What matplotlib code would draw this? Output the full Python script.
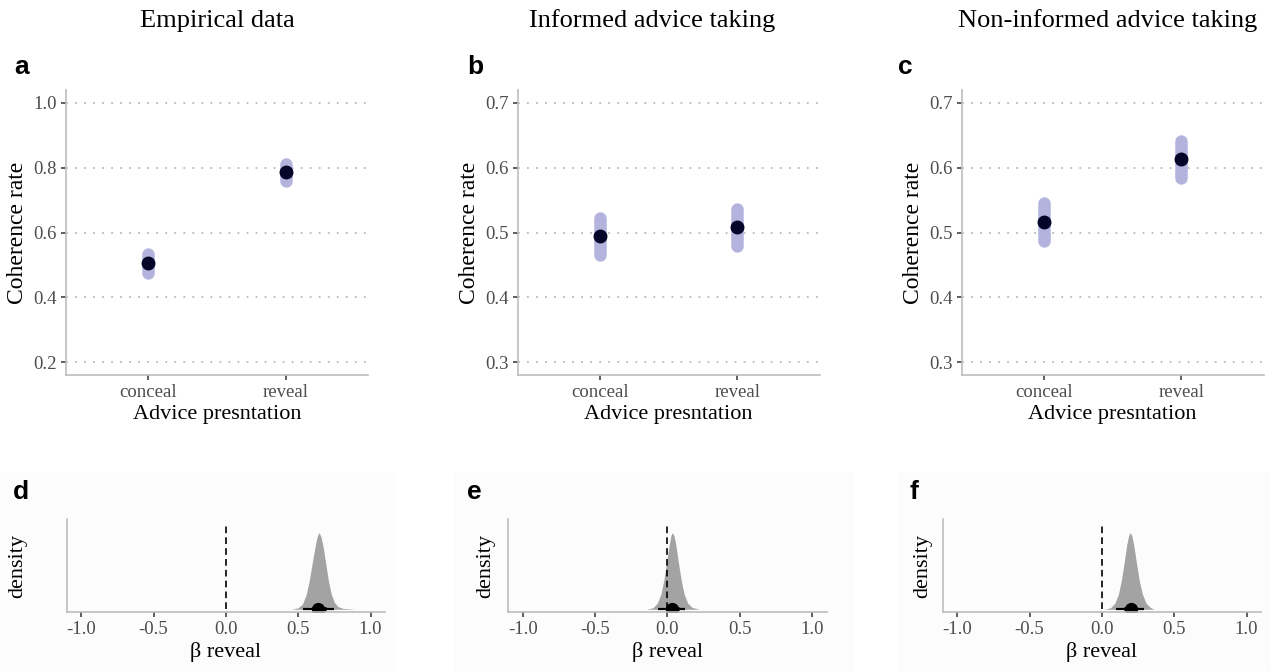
import matplotlib
matplotlib.use("Agg")
import matplotlib.pyplot as plt
from matplotlib.patches import Rectangle

plt.rcParams['font.family'] = ['Liberation Serif', 'DejaVu Serif']

# top row: posterior predicted coherence rate per condition
conditions = ["conceal", "reveal"]
col_titles = ["Empirical data", "Informed advice taking", "Non-informed advice taking"]

emp_mid = [0.505, 0.786]
emp_lo = [0.474, 0.760]
emp_hi = [0.533, 0.810]

inf_mid = [0.494, 0.508]
inf_lo = [0.465, 0.479]
inf_hi = [0.523, 0.537]

non_mid = [0.516, 0.613]
non_lo = [0.487, 0.584]
non_hi = [0.545, 0.641]

top_yticks = [[0.2, 0.4, 0.6, 0.8, 1.0],
              [0.3, 0.4, 0.5, 0.6, 0.7],
              [0.3, 0.4, 0.5, 0.6, 0.7]]

# bottom row: posterior of beta reveal (shape)
d_x = [0.455, 0.50, 0.53, 0.555, 0.575, 0.595, 0.615, 0.630, 0.643, 0.657,
       0.672, 0.690, 0.708, 0.728, 0.750, 0.775, 0.81, 0.89]
d_h = [0.00, 0.02, 0.07, 0.19, 0.36, 0.58, 0.80, 0.94, 1.00, 0.95,
       0.82, 0.60, 0.38, 0.20, 0.09, 0.035, 0.012, 0.00]

e_x = [-0.145, -0.10, -0.07, -0.045, -0.025, -0.005, 0.012, 0.024, 0.034,
       0.045, 0.058, 0.075, 0.095, 0.115, 0.14, 0.17, 0.22]
e_h = [0.00, 0.02, 0.08, 0.20, 0.38, 0.62, 0.84, 0.96, 1.00,
       0.96, 0.84, 0.62, 0.38, 0.20, 0.08, 0.025, 0.00]

f_x = [0.02, 0.06, 0.09, 0.115, 0.135, 0.155, 0.172, 0.185, 0.195,
       0.207, 0.220, 0.238, 0.258, 0.280, 0.305, 0.335, 0.36]
f_h = [0.00, 0.02, 0.08, 0.20, 0.38, 0.62, 0.84, 0.96, 1.00,
       0.96, 0.84, 0.62, 0.38, 0.20, 0.08, 0.025, 0.00]

beta_median = [0.64, 0.032, 0.20]
beta_q66 = [(0.595, 0.69), (-0.012, 0.078), (0.152, 0.245)]
beta_q95 = [(0.536, 0.745), (-0.064, 0.124), (0.101, 0.292)]
beta_ticks = [-1.0, -0.5, 0.0, 0.5, 1.0]

W, H = 1271, 671
fig = plt.figure(figsize=(W / 100, H / 100), dpi=100)

# very faint backgrounds behind the bottom panels
for x0, x1 in [(0, 395), (455, 852), (898, 1271)]:
    fig.patches.append(Rectangle((x0 / W, 0), (x1 - x0) / W, (H - 472) / H,
                                 transform=fig.transFigure, color='#fcfcfc', zorder=-10))

spine_col = '#bdbdbd'
tick_col = '#4d4d4d'


def style_axes(ax):
    for s in ['top', 'right']:
        ax.spines[s].set_visible(False)
    for s in ['left', 'bottom']:
        ax.spines[s].set_color(spine_col)
        ax.spines[s].set_linewidth(1.2)
    ax.tick_params(colors='#333333', labelcolor=tick_col, labelsize=13.5, length=3.5, width=1.1, pad=3)
    ax.set_facecolor('none')


top_left = [66, 517.7, 961.7]
top_data = [(emp_mid, emp_lo, emp_hi), (inf_mid, inf_lo, inf_hi), (non_mid, non_lo, non_hi)]
title_x = [217, 652, 1108]
letter_top = [(14, 'a'), (467, 'b'), (898, 'c')]

for i in range(3):
    ax = fig.add_axes([top_left[i] / W, 1 - 375 / H, 302 / W, 285 / H])
    style_axes(ax)
    mid, lo, hi = top_data[i]
    xs = range(1, len(conditions) + 1)
    ticks = top_yticks[i]
    for y in ticks:
        ax.axhline(y, color='#bababa', lw=1.3, linestyle=(0, (1, 4)), zorder=0)
    for x, l, h in zip(xs, lo, hi):
        ax.plot([x, x], [l, h], color='#b3b3dd', lw=9, solid_capstyle='round', zorder=2)
    ax.plot(list(xs), mid, 'o', color='#05052a', markersize=9, zorder=3)
    span = ticks[-1] - ticks[0]
    ax.set_ylim(ticks[0] - 0.05 * span, ticks[-1] + 0.05 * span)
    ax.set_yticks(ticks)
    ax.set_yticklabels([f"{t:.1f}" for t in ticks])
    ax.set_xlim(0.4, 2.6)
    ax.set_xticks(list(xs))
    ax.set_xticklabels(conditions)
    ax.set_ylabel("Coherence rate", fontsize=17)
    ax.yaxis.set_label_coords(-0.125, 0.5)
    ax.set_xlabel("Advice presntation", fontsize=16, labelpad=3)
    fig.text(title_x[i] / W, 1 - 21 / H, col_titles[i], fontsize=19, ha='center', va='center')
    lx, letter = letter_top[i]
    fig.text(lx / W, 1 - 67 / H, letter, fontsize=19, fontweight='bold',
             family='Liberation Sans', ha='left', va='center')

bot_left = [66.7, 508.3, 942.7]
bot_ylab = [-0.125, -0.042, -0.034]
dens = [(d_x, d_h), (e_x, e_h), (f_x, f_h)]
letter_bot = [(13, 'd'), (467, 'e'), (910, 'f')]

for i in range(3):
    ax = fig.add_axes([bot_left[i] / W, 1 - 612 / H, 318.3 / W, 93 / H])
    style_axes(ax)
    ax.spines['bottom'].set_zorder(5)
    dx, dh = dens[i]
    ax.fill_between(dx, 0, [h * 0.85 for h in dh], color='#a3a3a3', lw=0, zorder=2)
    ax.plot(list(beta_q95[i]), [0, 0], color='black', lw=1.6, solid_capstyle='butt', zorder=3)
    ax.plot(list(beta_q66[i]), [0, 0], color='black', lw=3.5, solid_capstyle='butt', zorder=3)
    ax.plot([beta_median[i]], [0], 'o', color='black', markersize=8.5, zorder=4)
    ax.plot([0, 0], [0, 0.95], color='black', lw=1.2, linestyle=(0, (4, 2.5)), zorder=4)
    ax.set_xlim(-1.1, 1.1)
    ax.set_ylim(-0.03, 1.0)
    ax.set_xticks(beta_ticks)
    ax.set_xticklabels([f"{t:.1f}" for t in beta_ticks])
    ax.set_yticks([])
    ax.set_ylabel("density", fontsize=16)
    ax.yaxis.set_label_coords(bot_ylab[i], 0.5)
    ax.set_xlabel("\u03b2 reveal", fontsize=16, labelpad=3)
    lx, letter = letter_bot[i]
    fig.text(lx / W, 1 - 492 / H, letter, fontsize=19, fontweight='bold',
             family='Liberation Sans', ha='left', va='center')

fig.savefig("out.png", dpi=100)
